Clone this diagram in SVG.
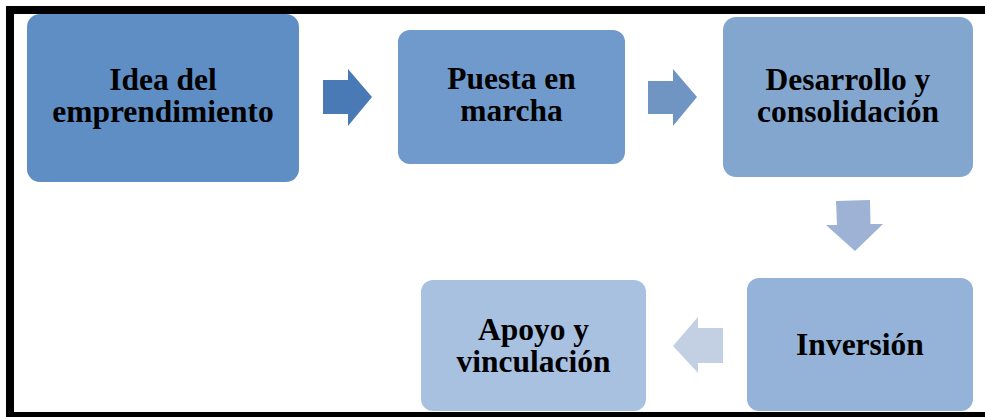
<svg xmlns="http://www.w3.org/2000/svg" width="985" height="417" viewBox="0 0 985 417">
<style>
.t{font-family:"Liberation Serif","Times New Roman",serif;font-weight:bold;font-size:31.5px;fill:#000;text-anchor:middle}
</style>
<rect x="0" y="0" width="985" height="417" fill="#fff"/>
<g id="connectors">
<polygon points="323,80 348,80 348,69 372,97 348,126 348,114 323,114" fill="#4a7ab5"/>
<polygon points="648,81 673,81 673,69 697,97 673,126 673,114 648,114" fill="#7195c3"/>
<polygon points="836,201 870,200 870.5,224 883,224 855,251 826,225 837,225" fill="#9db2d4"/>
<polygon points="723,328 698,328 698,317 673,346 698,373 698,363 723,363" fill="#c3cfe3"/>
</g>
<g id="n1"><rect x="27" y="14" width="272" height="168" rx="13" fill="#5f8ec5"/><text class="t" x="163" y="90">Idea del</text><text class="t" x="163" y="122">emprendimiento</text></g>
<g id="n2"><rect x="398" y="30" width="227" height="134" rx="12" fill="#6f9acb"/><text class="t" x="511.5" y="89">Puesta en</text><text class="t" x="511.5" y="121">marcha</text></g>
<g id="n3"><rect x="723" y="17" width="250" height="160" rx="13" fill="#83a6cf"/><text class="t" x="848" y="90">Desarrollo y</text><text class="t" x="848" y="122">consolidación</text></g>
<g id="n4"><rect x="747" y="278" width="226" height="133" rx="12" fill="#95b3d8"/><text class="t" x="860" y="355">Inversión</text></g>
<g id="n5"><rect x="421" y="280" width="225" height="131" rx="12" fill="#a8c1e0"/><text class="t" x="533.5" y="340">Apoyo y</text><text class="t" x="533.5" y="372">vinculación</text></g>
<rect x="10" y="10" width="990" height="406" fill="none" stroke="#000" stroke-width="8"/>
</svg>
